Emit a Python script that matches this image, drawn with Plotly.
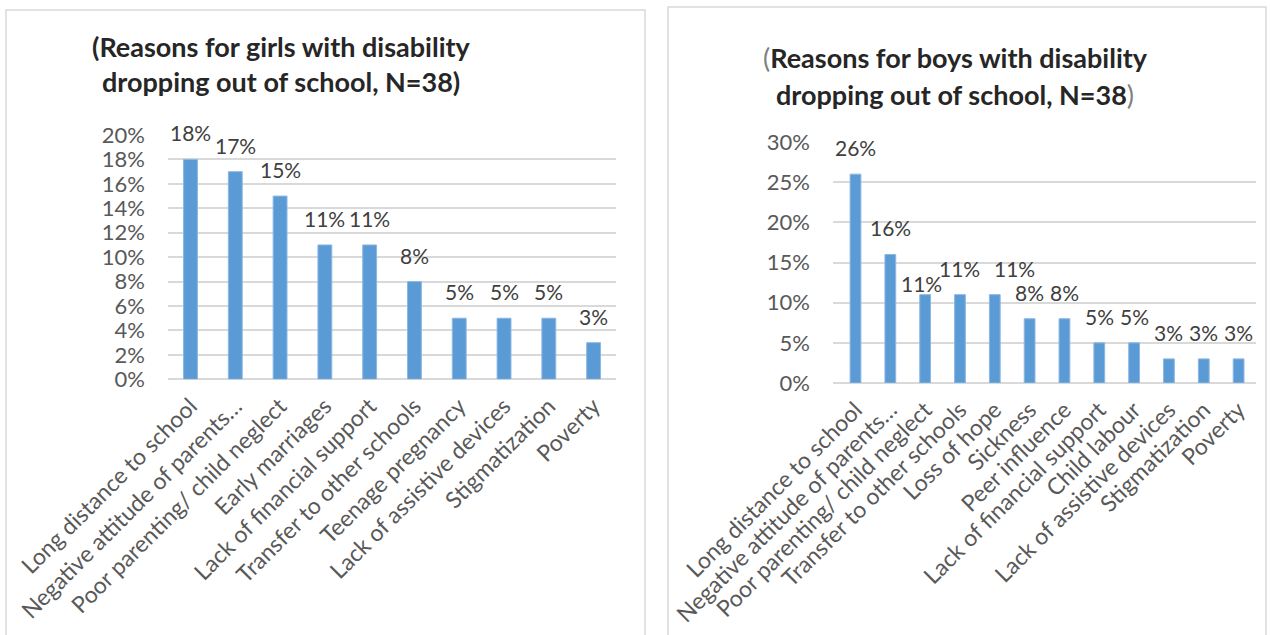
import plotly.graph_objects as go

# Reasons for dropping out of school (percent of respondents, N=38)
girls_reasons = [
    "Long distance to school",
    "Negative attitude of parents…",
    "Poor parenting/ child neglect",
    "Early marriages",
    "Lack of financial support",
    "Transfer to other schools",
    "Teenage pregnancy",
    "Lack of assistive devices",
    "Stigmatization",
    "Poverty",
]
girls_pct = [18, 17, 15, 11, 11, 8, 5, 5, 5, 3]

boys_reasons = [
    "Long distance to school",
    "Negative attitude of parents…",
    "Poor parenting/ child neglect",
    "Transfer to other schools",
    "Loss of hope",
    "Sickness",
    "Peer influence",
    "Lack of financial support",
    "Child labour",
    "Lack of assistive devices",
    "Stigmatization",
    "Poverty",
]
boys_pct = [26, 16, 11, 11, 11, 8, 8, 5, 5, 3, 3, 3]

girls_ticks = list(range(0, 21, 2))
boys_ticks = list(range(0, 31, 5))

W, H = 1270, 635
BAR = "#5B9BD5"
GRID = "#D9D9D9"
FONT = "Lato"


def px_x(v):
    return v / W


def px_y(v):
    return (H - v) / H


fig = go.Figure()

fig.add_trace(go.Bar(
    x=girls_reasons, y=girls_pct, marker=dict(color=BAR, line=dict(color="#8DB8E3", width=1)),
    xaxis="x", yaxis="y", hoverinfo="skip",
))
fig.add_trace(go.Bar(
    x=boys_reasons, y=boys_pct, marker=dict(color=BAR, line=dict(color="#8DB8E3", width=1)),
    xaxis="x2", yaxis="y2", hoverinfo="skip",
))

cat_axis = dict(
    type="category", tickangle=-45, showgrid=False, zeroline=False,
    showline=False, ticks="", automargin=False, ticklabelstandoff=8,
    tickfont=dict(family=FONT, size=23, color="#595959"),
)
val_axis = dict(
    showgrid=True, gridcolor=GRID, gridwidth=1.5, zeroline=True,
    zerolinecolor=GRID, zerolinewidth=1.5, showline=False, ticks="",
    tickmode="array", ticklabelstandoff=22, automargin=False,
    tickfont=dict(family=FONT, size=22, color="#595959"),
)

fig.update_layout(
    width=W, height=H, margin=dict(l=0, r=0, t=0, b=0),
    paper_bgcolor="white", plot_bgcolor="white", showlegend=False,
    bargap=0.69,
    xaxis=dict(cat_axis, domain=[px_x(168), px_x(616)], anchor="y"),
    yaxis=dict(val_axis, domain=[px_y(379.3), px_y(135)], range=[0, 20],
               tickvals=girls_ticks, ticktext=[f"{t}%" for t in girls_ticks],
               anchor="x"),
    xaxis2=dict(cat_axis, domain=[px_x(833), px_x(1256)], anchor="y2"),
    yaxis2=dict(val_axis, domain=[px_y(383), px_y(142)], range=[0, 30],
                tickvals=boys_ticks, ticktext=[f"{t}%" for t in boys_ticks],
                anchor="x2"),
)

# Panel frames
for x0, x1, y0 in [(6, 645, 10), (668, 1266, 7)]:
    fig.add_shape(type="rect", xref="paper", yref="paper",
                  x0=px_x(x0), x1=px_x(x1), y0=-0.05, y1=px_y(y0),
                  line=dict(color=GRID, width=1.5), fillcolor="rgba(0,0,0,0)")

# Value labels above bars; a few are nudged where neighbours crowd each other
boys_nudge = {2: (-4, -15), 4: (20, 0)}


def add_labels(cats, vals, xa, ya, nudge):
    for i, (c, v) in enumerate(zip(cats, vals)):
        dx, dy = nudge.get(i, (0, 0))
        fig.add_annotation(
            x=c, y=v, xref=xa, yref=ya, text=f"{v}%", showarrow=False,
            yanchor="bottom", yshift=12 + dy, xshift=dx,
            font=dict(family=FONT, size=21, color="#404040"),
        )


add_labels(girls_reasons, girls_pct, "x", "y", {})
add_labels(boys_reasons, boys_pct, "x2", "y2", boys_nudge)

# Titles
TITLE_FONT = dict(family=FONT, size=27, color="#262626")
titles = [
    (281, 47, "<b>(Reasons for girls with disability</b>"),
    (281, 82, "<b>dropping out of school, N=38)</b>"),
    (955, 57, "<span style='color:#808080'>(</span><b>Reasons for boys with disability</b>"),
    (955, 95, "<b>dropping out of school, N=38</b><span style='color:#808080'>)</span>"),
]
for x, y, t in titles:
    fig.add_annotation(x=px_x(x), y=px_y(y), xref="paper", yref="paper",
                       text=t, showarrow=False, xanchor="center", yanchor="middle",
                       font=TITLE_FONT)

fig.write_html("out.html")
